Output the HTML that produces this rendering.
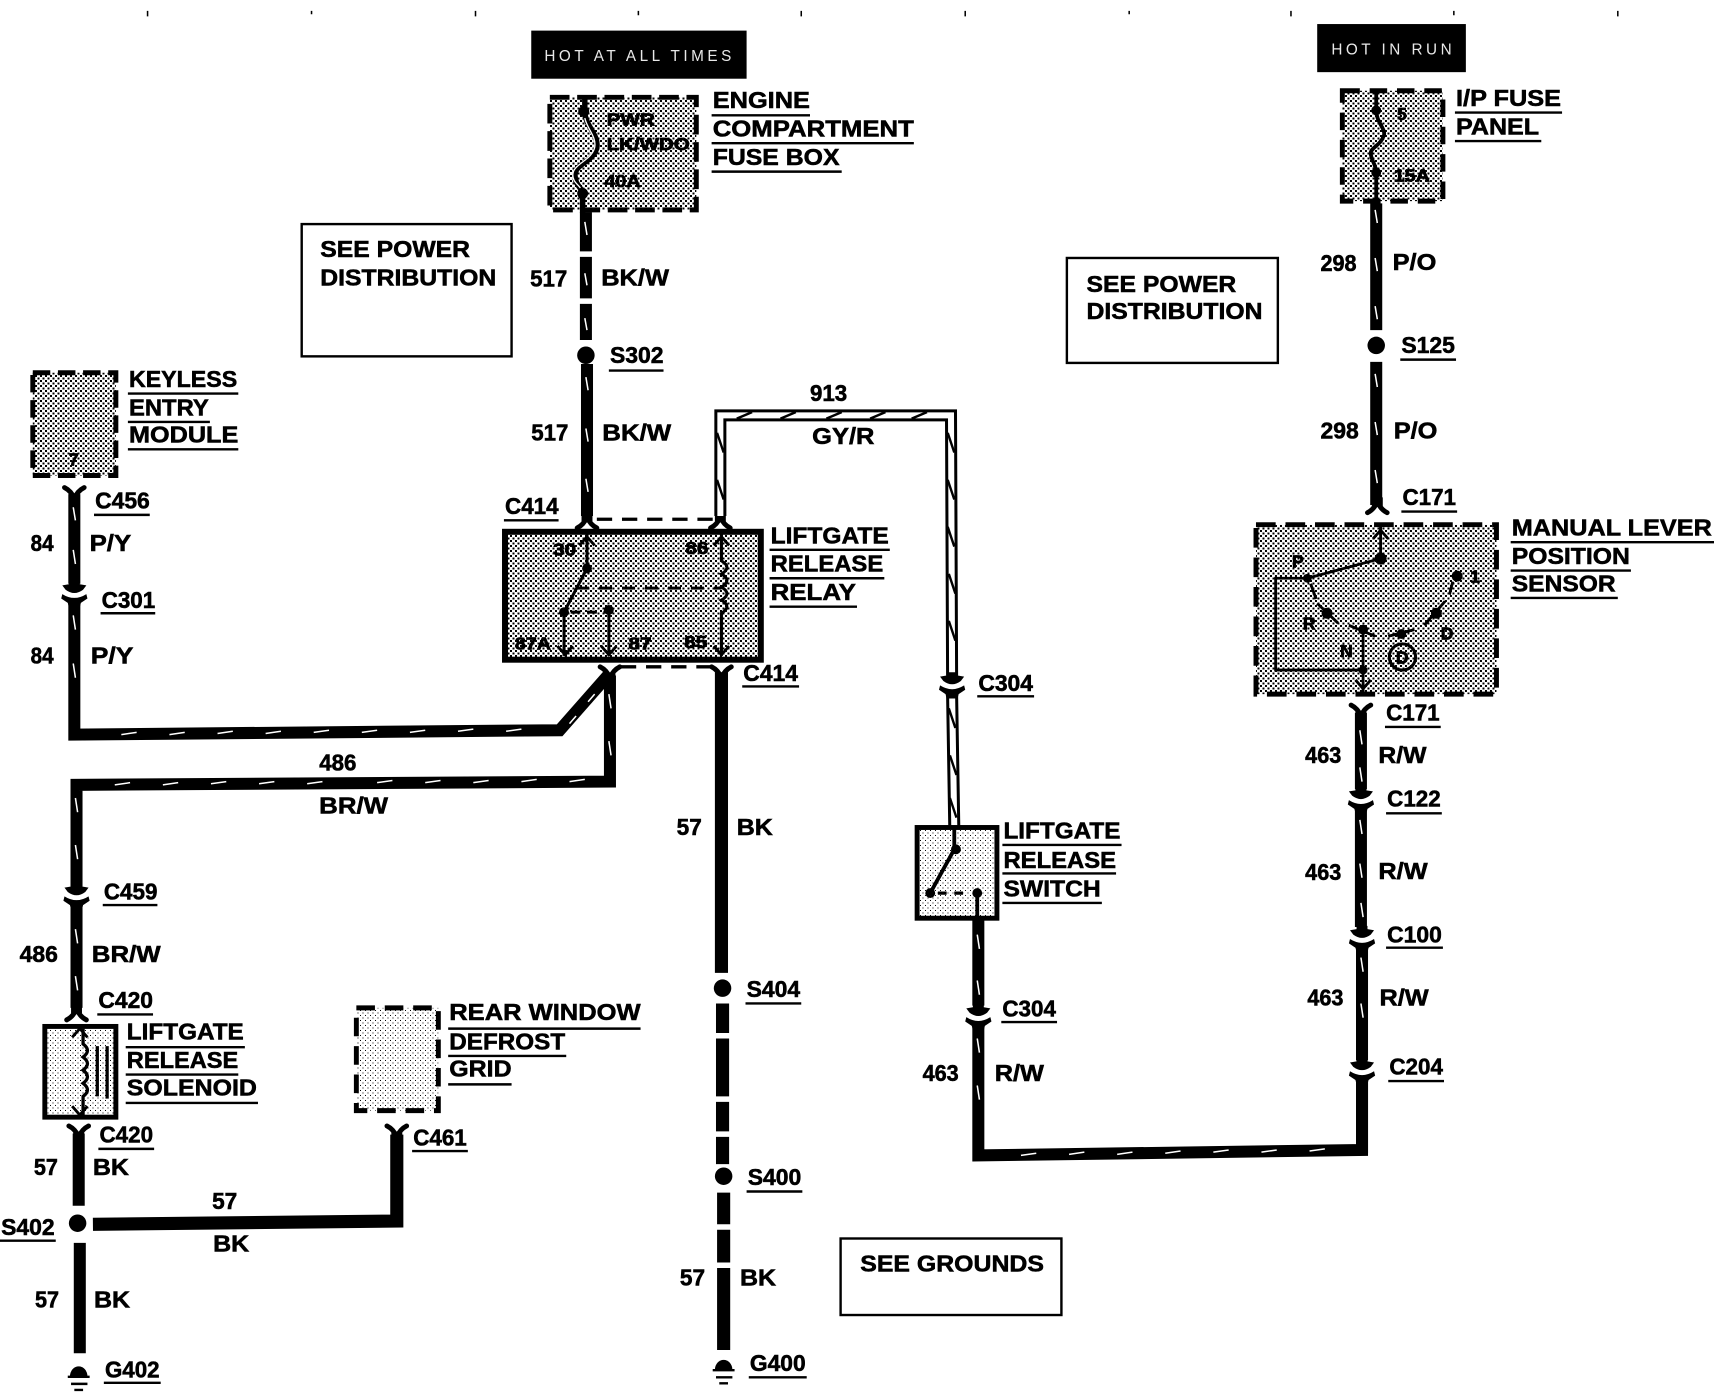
<!DOCTYPE html>
<html>
<head>
<meta charset="utf-8">
<style>
html,body{margin:0;padding:0;background:#fff;width:1714px;height:1392px;overflow:hidden}
svg{display:block;position:absolute;left:0;top:0}
text{font-family:"Liberation Sans",sans-serif;font-weight:bold;font-size:21px;fill:#000;stroke:#000;stroke-width:.5}
text.s{font-size:16px;stroke-width:.7}
text.h{font-size:14px;font-weight:normal;fill:#e8e8e8;stroke:none}
.u{stroke:#000;stroke-width:2.2;fill:none}
.w{stroke:#000;stroke-width:11;fill:none}
.tr{stroke:#fff;stroke-width:1.4;fill:none}
.box{stroke:#000;stroke-width:2.2;fill:#fff}
</style>
</head>
<body>
<svg width="1714" height="1392" viewBox="0 0 1568 1273.42" xmlns="http://www.w3.org/2000/svg">
<defs>
<pattern id="d" width="4.574" height="4.574" patternUnits="userSpaceOnUse" shape-rendering="crispEdges">
<rect width="4.574" height="4.574" fill="#fff"/>
<rect width="1.83" height="1.83" fill="#000"/>
<rect x="2.287" y="2.287" width="1.83" height="1.83" fill="#000"/>
</pattern>
<pattern id="l" width="4.574" height="4.574" patternUnits="userSpaceOnUse" shape-rendering="crispEdges">
<rect width="4.574" height="4.574" fill="#fff"/>
<rect width="1.1" height="1.1" fill="#000"/>
<rect x="2.287" y="2.287" width="1.1" height="1.1" fill="#000"/>
</pattern>
<g id="fu"><path d="M-9,-7 Q-3,-4 0,3 Q3,-4 9,-7" fill="none" stroke="#000" stroke-width="4.5" stroke-linecap="round"/><rect x="-5" y="-1" width="10" height="8"/></g>
<g id="fd"><path d="M-9,7 Q-3,4 0,-3 Q3,4 9,7" fill="none" stroke="#000" stroke-width="4.5" stroke-linecap="round"/><rect x="-5" y="-7" width="10" height="8"/></g>
<g id="ah"><path d="M-7,6 L0,-2 L7,6" fill="none" stroke="#000" stroke-width="2.6"/></g>
<g id="av"><path d="M-7,-6 L0,2 L7,-6" fill="none" stroke="#000" stroke-width="2.6"/></g>
<!-- connector pair: upper arrowhead with belly, lower bowl-shaped fork -->
<g id="pa"><path d="M-5,-11H5V-8L11,-7L8,-3Q0,3 -8,-3L-11,-7L-5,-8Z"/><path d="M-11,1Q0,8 11,1L12,5L6,9L5,13H-5L-6,9L-12,5Z"/></g>
<g id="pb" transform="scale(1,-1)"><path d="M-5,-11H5V-8L11,-7L8,-3Q0,3 -8,-3L-11,-7L-5,-8Z"/><path d="M-11,1Q0,8 11,1L12,5L6,9L5,13H-5L-6,9L-12,5Z"/></g>
</defs>

<!-- ticks -->
<path d="M135,10V15M285,10V13M435,10V15M584,10V14M733,10V15M883,10V15M1033,10V13M1181,10V15M1330,10V14M1480,10V15" stroke="#000" stroke-width="1.4" fill="none"/>

<!-- hot boxes -->
<rect x="486" y="28" width="197" height="44"/>
<text class="h" x="498" y="56" textLength="171" lengthAdjust="spacing">HOT AT ALL TIMES</text>
<rect x="1205" y="22" width="136" height="44"/>
<text class="h" x="1218" y="50" textLength="110" lengthAdjust="spacing">HOT IN RUN</text>

<!-- reference boxes -->
<rect class="box" x="276" y="205" width="192" height="121"/>
<text x="293" y="235" textLength="137" lengthAdjust="spacingAndGlyphs">SEE POWER</text>
<text x="293" y="261" textLength="161" lengthAdjust="spacingAndGlyphs">DISTRIBUTION</text>
<rect class="box" x="976" y="236" width="193" height="96"/>
<text x="994" y="267" textLength="137" lengthAdjust="spacingAndGlyphs">SEE POWER</text>
<text x="994" y="292" textLength="161" lengthAdjust="spacingAndGlyphs">DISTRIBUTION</text>
<rect class="box" x="769" y="1133" width="202" height="70"/>
<text x="787" y="1163" textLength="168" lengthAdjust="spacingAndGlyphs">SEE GROUNDS</text>

<!-- engine fuse box -->
<rect x="503" y="89" width="134" height="103" fill="url(#d)" stroke="#000" stroke-width="4.5" stroke-dasharray="18 7"/>
<path d="M535,87V102C535,115 548,123 546,135C543,148 526,150 526,160C526,170 533,172 533,177V195" fill="none" stroke="#000" stroke-width="5"/>
<path d="M535,108C537,118 546,125 544,135C541,147 524,150 524,160C524,166 528,168 531,172" fill="none" stroke="#fff" stroke-width="1.2"/>
<circle cx="534" cy="102" r="5"/><circle cx="533" cy="177" r="5"/>
<text class="s" x="555" y="115" textLength="44" lengthAdjust="spacingAndGlyphs">PWR</text>
<text class="s" x="555" y="137" textLength="76" lengthAdjust="spacingAndGlyphs">LK/WDO</text>
<text class="s" x="553" y="171" textLength="33" lengthAdjust="spacingAndGlyphs">40A</text>
<text x="652" y="99" textLength="89" lengthAdjust="spacingAndGlyphs">ENGINE</text>
<text x="652" y="125" textLength="184" lengthAdjust="spacingAndGlyphs">COMPARTMENT</text>
<text x="652" y="151" textLength="116" lengthAdjust="spacingAndGlyphs">FUSE BOX</text>
<path class="u" d="M651,105.5H741M651,131H836M651,157H770"/>

<!-- 517 wire -->
<path class="w" d="M536,194V230M536,235V273M536,278V311M537,333V472"/>
<path class="tr" d="M535,203l2,12M535,250l2,11M535,291l2,11M536,345l2,12M536,392l2,12M536,438l2,12"/>
<circle cx="536" cy="325" r="8"/>
<text x="485" y="262" textLength="34" lengthAdjust="spacingAndGlyphs">517</text>
<text x="550" y="261" textLength="62" lengthAdjust="spacingAndGlyphs">BK/W</text>
<text x="558" y="332" textLength="49" lengthAdjust="spacingAndGlyphs">S302</text>
<path class="u" d="M557,339H607"/>
<text x="486" y="403" textLength="34" lengthAdjust="spacingAndGlyphs">517</text>
<text x="551" y="403" textLength="63" lengthAdjust="spacingAndGlyphs">BK/W</text>

<!-- keyless -->
<rect x="30" y="341" width="76" height="94" fill="url(#d)" stroke="#000" stroke-width="4.5" stroke-dasharray="16 7"/>
<text class="s" x="63" y="426">7</text>
<text x="118" y="354" textLength="99" lengthAdjust="spacingAndGlyphs">KEYLESS</text>
<text x="118" y="380" textLength="73" lengthAdjust="spacingAndGlyphs">ENTRY</text>
<text x="118" y="405" textLength="100" lengthAdjust="spacingAndGlyphs">MODULE</text>
<path class="u" d="M117,360H218M117,386H192M117,411H218"/>
<use href="#fu" x="68" y="453"/>
<path class="w" d="M68,452V534"/>
<path class="tr" d="M67,464l2,12M67,503l2,13"/>
<use href="#pb" transform="translate(68,542.5) scale(1,-1)"/>
<text x="87" y="465" textLength="50" lengthAdjust="spacingAndGlyphs">C456</text>
<path class="u" d="M86,471H137"/>
<text x="28" y="504" textLength="21" lengthAdjust="spacingAndGlyphs">84</text>
<text x="82" y="504" textLength="38" lengthAdjust="spacingAndGlyphs">P/Y</text>
<text x="93" y="556" textLength="49" lengthAdjust="spacingAndGlyphs">C301</text>
<path class="u" d="M92,561H142"/>
<text x="28" y="607" textLength="21" lengthAdjust="spacingAndGlyphs">84</text>
<text x="83" y="607" textLength="39" lengthAdjust="spacingAndGlyphs">P/Y</text>
<path class="w" d="M68,552V672L512,668L556,618"/>
<path class="tr" d="M67,563l2,13M67,607l2,13M111,672l14,-2M155,672l14,-2M199,671l14,-2M243,671l14,-2M287,670l14,-2M331,670l14,-2M375,670l14,-2M419,669l14,-2M463,669l14,-2M521,662l6,-7M538,642l6,-7"/>

<!-- 486 -->
<path class="w" d="M70,811V718L558,715V618"/>
<path class="tr" d="M69,730l2,13M69,773l2,13M105,718l14,-2M149,718l14,-2M193,717l14,-2M237,717l14,-2M281,717l14,-2M345,716l14,-2M389,716l14,-2M433,716l14,-2M477,715l14,-2M521,715l14,-2M557,635l2,13M557,678l2,13"/>
<text x="292" y="705" textLength="34" lengthAdjust="spacingAndGlyphs">486</text>
<text x="292" y="744" textLength="63" lengthAdjust="spacingAndGlyphs">BR/W</text>
<use href="#pa" x="70" y="819"/>
<text x="95" y="823" textLength="49" lengthAdjust="spacingAndGlyphs">C459</text>
<path class="u" d="M94,828H144"/>
<path class="w" d="M70,830V922"/>
<path class="tr" d="M69,850l2,13M69,893l2,13"/>
<text x="18" y="880" textLength="35" lengthAdjust="spacingAndGlyphs">486</text>
<text x="84" y="880" textLength="63" lengthAdjust="spacingAndGlyphs">BR/W</text>
<use href="#fd" x="70" y="926"/>
<text x="90" y="922" textLength="50" lengthAdjust="spacingAndGlyphs">C420</text>
<path class="u" d="M89,928H140"/>

<!-- solenoid -->
<rect x="41" y="939" width="65" height="83" fill="url(#l)" stroke="#000" stroke-width="4.5"/>
<path d="M76,941V955Q84,961 76,967Q84,973 76,979Q84,985 76,991Q84,997 76,1003V1021" fill="none" stroke="#000" stroke-width="3"/>
<use href="#ah" x="73" y="943"/><use href="#av" x="73" y="1018"/>
<path d="M89,957V1003M98,957V1005" stroke="#000" stroke-width="3" fill="none"/>
<text x="116" y="951" textLength="107" lengthAdjust="spacingAndGlyphs">LIFTGATE</text>
<text x="116" y="977" textLength="102" lengthAdjust="spacingAndGlyphs">RELEASE</text>
<text x="116" y="1002" textLength="119" lengthAdjust="spacingAndGlyphs">SOLENOID</text>
<path class="u" d="M115,958H224M115,983H218M115,1009H236"/>
<use href="#fu" x="72" y="1037"/>
<path class="w" d="M72,1037V1103"/>
<text x="91" y="1045" textLength="49" lengthAdjust="spacingAndGlyphs">C420</text>
<path class="u" d="M90,1051H141"/>
<text x="31" y="1075" textLength="22" lengthAdjust="spacingAndGlyphs">57</text>
<text x="85" y="1075" textLength="33" lengthAdjust="spacingAndGlyphs">BK</text>
<circle cx="71" cy="1119" r="8"/>
<text x="1" y="1130" textLength="49" lengthAdjust="spacingAndGlyphs">S402</text>
<path class="u" d="M0,1135H51"/>
<path d="M85,1120L363,1117V1038" fill="none" stroke="#000" stroke-width="12"/>
<use href="#fu" x="363" y="1037"/>
<text x="194" y="1106" textLength="23" lengthAdjust="spacingAndGlyphs">57</text>
<text x="195" y="1145" textLength="33" lengthAdjust="spacingAndGlyphs">BK</text>
<text x="378" y="1048" textLength="49" lengthAdjust="spacingAndGlyphs">C461</text>
<path class="u" d="M377,1053H428"/>
<path class="w" d="M73,1137V1238"/>
<text x="32" y="1196" textLength="22" lengthAdjust="spacingAndGlyphs">57</text>
<text x="86" y="1196" textLength="33" lengthAdjust="spacingAndGlyphs">BK</text>
<path d="M64,1259A8,9 0 0 1 80,1259Z"/>
<path d="M62,1259.5H82M65,1266H80M68,1271.5H76" stroke="#000" stroke-width="2.2" fill="none"/>
<text x="96" y="1260" textLength="50" lengthAdjust="spacingAndGlyphs">G402</text>
<path class="u" d="M95,1265H147"/>

<!-- rear window -->
<rect x="326" y="922" width="75" height="94" fill="url(#l)" stroke="#000" stroke-width="4.5" stroke-dasharray="17 9"/>
<text x="411" y="933" textLength="175" lengthAdjust="spacingAndGlyphs">REAR WINDOW</text>
<text x="411" y="960" textLength="106" lengthAdjust="spacingAndGlyphs">DEFROST</text>
<text x="411" y="985" textLength="57" lengthAdjust="spacingAndGlyphs">GRID</text>
<path class="u" d="M410,941H586M410,966H518M410,992H468"/>

<!-- relay -->
<use href="#fd" x="537" y="476"/>
<use href="#fd" x="659" y="476"/>
<path d="M546,475H652" stroke="#000" stroke-width="3" stroke-dasharray="14 9" fill="none"/>
<rect x="462" y="486.5" width="234" height="117" fill="url(#d)" stroke="#000" stroke-width="5.5"/>
<path d="M537,489V520L516,560V600M557,558V600M660,489V513Q670,519 660,525Q670,531 660,537Q670,543 660,549Q670,555 660,561V600" fill="none" stroke="#000" stroke-width="2.8"/>
<path d="M527,538H660" stroke="#000" stroke-width="2.8" stroke-dasharray="12 9" fill="none"/>
<path d="M522,560H556" stroke="#000" stroke-width="2.8" stroke-dasharray="9 6" fill="none"/>
<circle cx="537" cy="520" r="4.5"/><circle cx="516" cy="560" r="4.5"/><circle cx="557" cy="558" r="4.5"/>
<use href="#ah" x="537" y="493"/><use href="#ah" x="660" y="493"/>
<use href="#av" x="517" y="597"/><use href="#av" x="557" y="597"/><use href="#av" x="660" y="597"/>
<text class="s" x="506" y="508" textLength="21" lengthAdjust="spacingAndGlyphs">30</text>
<text class="s" x="627" y="507" textLength="21" lengthAdjust="spacingAndGlyphs">86</text>
<text class="s" x="471" y="594" textLength="33" lengthAdjust="spacingAndGlyphs">87A</text>
<text class="s" x="575" y="594" textLength="21" lengthAdjust="spacingAndGlyphs">87</text>
<text class="s" x="626" y="593" textLength="21" lengthAdjust="spacingAndGlyphs">85</text>
<text x="462" y="470" textLength="49" lengthAdjust="spacingAndGlyphs">C414</text>
<path class="u" d="M461,476H511"/>
<text x="705" y="497" textLength="108" lengthAdjust="spacingAndGlyphs">LIFTGATE</text>
<text x="705" y="523" textLength="103" lengthAdjust="spacingAndGlyphs">RELEASE</text>
<text x="705" y="549" textLength="78" lengthAdjust="spacingAndGlyphs">RELAY</text>
<path class="u" d="M704,503H814M704,529H809M704,555H784"/>
<use href="#fu" x="558" y="617"/>
<use href="#fu" x="660" y="617"/>
<path d="M568,610H650" stroke="#000" stroke-width="3" stroke-dasharray="14 9" fill="none"/>
<text x="680" y="623" textLength="50" lengthAdjust="spacingAndGlyphs">C414</text>
<path class="u" d="M679,628H731"/>

<!-- 57 main -->
<path d="M660,615V890M661,918V945M661,950V1003M661,1008V1035M661,1040V1065M662,1091V1120M662,1125V1155M662,1160V1235" fill="none" stroke="#000" stroke-width="12"/>
<text x="619" y="764" textLength="23" lengthAdjust="spacingAndGlyphs">57</text>
<text x="674" y="764" textLength="33" lengthAdjust="spacingAndGlyphs">BK</text>
<circle cx="661" cy="904" r="8"/>
<text x="683" y="912" textLength="49" lengthAdjust="spacingAndGlyphs">S404</text>
<path class="u" d="M682,918H733"/>
<circle cx="662" cy="1076" r="8"/>
<text x="684" y="1084" textLength="49" lengthAdjust="spacingAndGlyphs">S400</text>
<path class="u" d="M683,1090H734"/>
<text x="622" y="1176" textLength="23" lengthAdjust="spacingAndGlyphs">57</text>
<text x="677" y="1176" textLength="33" lengthAdjust="spacingAndGlyphs">BK</text>
<path d="M654,1253A8,9 0 0 1 670,1253Z"/>
<path d="M652,1253.5H672M655,1260H670M658,1265.5H666" stroke="#000" stroke-width="2.2" fill="none"/>
<text x="686" y="1254" textLength="51" lengthAdjust="spacingAndGlyphs">G400</text>
<path class="u" d="M685,1260H738"/>

<!-- 913 wire -->
<path d="M659,472V380H870L871,618M871,636L873,757" fill="none" stroke="#000" stroke-width="11"/>
<path d="M659,472V380H870L871,618M871,636L873,757" fill="none" stroke="#fff" stroke-width="5.5"/>
<path d="M656,396l6,18M656,439l6,18M674,383l14,-6M714,383l14,-6M756,383l14,-6M796,383l14,-6M834,383l14,-6M867,396l6,18M867,439l6,18M867,482l6,18M868,525l6,18M868,568l6,18M868,648l6,18M869,691l6,18M869,730l6,18" fill="none" stroke="#000" stroke-width="2.2"/>
<use href="#pa" x="871" y="626"/>
<text x="741" y="367" textLength="34" lengthAdjust="spacingAndGlyphs">913</text>
<text x="743" y="406" textLength="57" lengthAdjust="spacingAndGlyphs">GY/R</text>
<text x="895" y="632" textLength="50" lengthAdjust="spacingAndGlyphs">C304</text>
<path class="u" d="M894,637H946"/>

<!-- switch -->
<rect x="839" y="757" width="73" height="83" fill="url(#l)" stroke="#000" stroke-width="4.5"/>
<path d="M873,757V777L851,817M894,817V838" fill="none" stroke="#000" stroke-width="3.5"/>
<path d="M858,817H888" stroke="#000" stroke-width="3" stroke-dasharray="8 7" fill="none"/>
<circle cx="874.5" cy="777" r="4.5"/><circle cx="851" cy="817" r="4.5"/><circle cx="894" cy="817" r="4.5"/>
<text x="918" y="767" textLength="107" lengthAdjust="spacingAndGlyphs">LIFTGATE</text>
<text x="918" y="794" textLength="103" lengthAdjust="spacingAndGlyphs">RELEASE</text>
<text x="918" y="820" textLength="89" lengthAdjust="spacingAndGlyphs">SWITCH</text>
<path class="u" d="M917,773H1026M917,799H1021M917,826H1008"/>

<!-- 463 bottom -->
<path class="w" d="M895,841V920"/>
<path class="w" d="M895,940V1057L1246,1052V990"/>
<path class="tr" d="M894,855l2,13M894,897l2,13M894,950l2,13M894,993l2,13M934,1057l14,-2M978,1056l14,-2M1022,1056l14,-2M1066,1055l14,-2M1110,1054l14,-2M1154,1054l14,-2M1198,1053l14,-2M1245,1005l2,13"/>
<use href="#pb" transform="translate(895,929.5) scale(1,-1)"/>
<text x="917" y="930" textLength="49" lengthAdjust="spacingAndGlyphs">C304</text>
<path class="u" d="M916,935H967"/>
<text x="844" y="989" textLength="33" lengthAdjust="spacingAndGlyphs">463</text>
<text x="910" y="989" textLength="45" lengthAdjust="spacingAndGlyphs">R/W</text>

<!-- I/P fuse -->
<rect x="1228" y="83" width="92" height="101" fill="url(#d)" stroke="#000" stroke-width="4.5" stroke-dasharray="16 9"/>
<path d="M1259,83V101C1259,112 1268,118 1266,124C1263,133 1254,135 1254,140C1254,147 1259,150 1259,158V184" fill="none" stroke="#000" stroke-width="3.5"/>
<circle cx="1259" cy="101" r="4.5"/><circle cx="1259" cy="158" r="4.5"/>
<text class="s" x="1278" y="110">5</text>
<text class="s" x="1275" y="166" textLength="33" lengthAdjust="spacingAndGlyphs">15A</text>
<text x="1332" y="97" textLength="96" lengthAdjust="spacingAndGlyphs">I/P FUSE</text>
<text x="1332" y="123" textLength="76" lengthAdjust="spacingAndGlyphs">PANEL</text>
<path class="u" d="M1331,103H1429M1331,129H1410"/>
<path class="w" d="M1259,186V302M1259,331V462"/>
<path class="tr" d="M1258,192l2,12M1258,236l2,12M1258,280l2,12M1258,342l2,12M1258,386l2,12M1258,430l2,12"/>
<circle cx="1259" cy="316" r="8"/>
<text x="1208" y="248" textLength="33" lengthAdjust="spacingAndGlyphs">298</text>
<text x="1274" y="247" textLength="40" lengthAdjust="spacingAndGlyphs">P/O</text>
<text x="1282" y="323" textLength="49" lengthAdjust="spacingAndGlyphs">S125</text>
<path class="u" d="M1281,329H1332"/>
<text x="1208" y="401" textLength="35" lengthAdjust="spacingAndGlyphs">298</text>
<text x="1275" y="401" textLength="40" lengthAdjust="spacingAndGlyphs">P/O</text>
<use href="#fd" x="1260" y="462"/>
<text x="1283" y="462" textLength="49" lengthAdjust="spacingAndGlyphs">C171</text>
<path class="u" d="M1282,468H1333"/>

<!-- lever -->
<rect x="1149" y="480" width="220" height="155" fill="url(#d)" stroke="#000" stroke-width="4.5" stroke-dasharray="18 9"/>
<path d="M1263,482V511L1196,529M1194,529H1167V613H1247M1247,576V633" fill="none" stroke="#000" stroke-width="2.6"/>
<use href="#ah" x="1263" y="487"/><use href="#av" x="1247" y="628"/>
<circle cx="1263" cy="511" r="5.5"/>
<circle cx="1196" cy="529" r="4"/>
<circle cx="1214" cy="561" r="5"/><circle cx="1247" cy="576" r="4.5"/><circle cx="1282" cy="580" r="4.5"/><circle cx="1314" cy="561" r="5"/><circle cx="1333" cy="527" r="5"/><circle cx="1247" cy="613" r="4"/>
<path d="M1199,534L1204,548M1205,552L1224,570M1234,572L1258,582M1270,582L1294,576M1303,572L1322,550M1329,532L1326,544" fill="none" stroke="#000" stroke-width="2.6"/>
<circle cx="1283" cy="601" r="12" fill="none" stroke="#000" stroke-width="2.8"/>
<text class="s" x="1277" y="607">D</text>
<text class="s" x="1182" y="519">P</text>
<text class="s" x="1192" y="576">R</text>
<text class="s" x="1226" y="601">N</text>
<text class="s" x="1318" y="585">D</text>
<text class="s" x="1345" y="533">1</text>
<text x="1383" y="490" textLength="183" lengthAdjust="spacingAndGlyphs">MANUAL LEVER</text>
<text x="1383" y="516" textLength="108" lengthAdjust="spacingAndGlyphs">POSITION</text>
<text x="1383" y="541" textLength="95" lengthAdjust="spacingAndGlyphs">SENSOR</text>
<path class="u" d="M1382,496H1568M1382,522H1492M1382,547H1480"/>
<use href="#fu" x="1245" y="652"/>
<text x="1268" y="659" textLength="49" lengthAdjust="spacingAndGlyphs">C171</text>
<path class="u" d="M1267,665H1318"/>

<!-- 463 right -->
<path class="w" d="M1245,652V722M1245,742V848M1246,868V970M1246,990V1055"/>
<path class="tr" d="M1244,668l2,13M1244,702l2,13M1244,750l2,13M1244,790l2,13M1245,826l2,13M1245,876l2,13M1245,918l2,13"/>
<use href="#pa" x="1245" y="731"/>
<use href="#pa" x="1246" y="858"/>
<use href="#pa" x="1246" y="979"/>
<text x="1194" y="698" textLength="33" lengthAdjust="spacingAndGlyphs">463</text>
<text x="1261" y="698" textLength="44" lengthAdjust="spacingAndGlyphs">R/W</text>
<text x="1269" y="738" textLength="49" lengthAdjust="spacingAndGlyphs">C122</text>
<path class="u" d="M1268,744H1319"/>
<text x="1194" y="805" textLength="33" lengthAdjust="spacingAndGlyphs">463</text>
<text x="1261" y="804" textLength="45" lengthAdjust="spacingAndGlyphs">R/W</text>
<text x="1269" y="862" textLength="50" lengthAdjust="spacingAndGlyphs">C100</text>
<path class="u" d="M1268,867H1320"/>
<text x="1196" y="920" textLength="33" lengthAdjust="spacingAndGlyphs">463</text>
<text x="1262" y="920" textLength="45" lengthAdjust="spacingAndGlyphs">R/W</text>
<text x="1271" y="983" textLength="49" lengthAdjust="spacingAndGlyphs">C204</text>
<path class="u" d="M1270,989H1321"/>
</svg>
</body>
</html>
